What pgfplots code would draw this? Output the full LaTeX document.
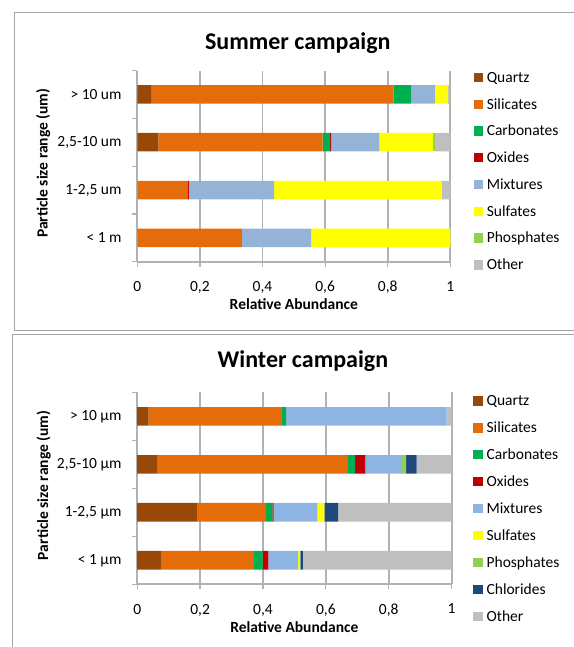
\documentclass[border=0pt]{standalone}
\usepackage{fontspec}
\setmainfont{Carlito}
\usepackage{pgfplots}
\usepackage{pgfplotstable}
\pgfplotsset{compat=1.18}

\definecolor{cquartz}{HTML}{984807}
\definecolor{csilic}{HTML}{E46C0A}
\definecolor{ccarb}{HTML}{00B050}
\definecolor{coxid}{HTML}{C00000}
\definecolor{cmixs}{HTML}{95B3D7}
\definecolor{cmixw}{HTML}{8EB4E3}
\definecolor{csulf}{HTML}{FFFF00}
\definecolor{cphos}{HTML}{92D050}
\definecolor{cchlo}{HTML}{1F497D}
\definecolor{cother}{HTML}{BFBFBF}
\definecolor{gridc}{RGB}{178,178,178}
\definecolor{framec}{RGB}{165,165,165}

% fractions per size class, 0 = smallest, 3 = largest
\pgfplotstableread{
pos quartz silicates carbonates oxides mixtures sulfates phosphates other
0 0     0.334 0     0     0.221 0.445 0     0
1 0     0.162 0     0.003 0.272 0.536 0     0.027
2 0.067 0.525 0.024 0.003 0.154 0.172 0.006 0.049
3 0.044 0.775 0.057 0     0.075 0.042 0     0.004
}\summer

\pgfplotstableread{
pos quartz silicates carbonates oxides mixtures sulfates phosphates chlorides other
0 0.078 0.293 0.028 0.018 0.095 0.005 0.002 0.008 0.473
1 0.190 0.220 0.020 0.004 0.139 0.022 0     0.044 0.361
2 0.065 0.605 0.023 0.033 0.117 0     0.012 0.034 0.111
3 0.036 0.424 0.014 0     0.510 0     0     0     0.016
}\winter

\newcommand{\lblfont}{\fontsize{15.5}{18}\selectfont}

\pgfplotsset{
  campaign/.style={
    xbar stacked,
    scale only axis,
    anchor=south west,
    xmin=0, xmax=1, ymin=-0.5, ymax=3.5,
    axis lines*=left,
    axis line style={draw=gridc, line width=1.8pt},
    xtick={0,0.2,0.4,0.6,0.8,1},
    xticklabels={0,{0,2},{0,4},{0,6},{0,8},1},
    xmajorgrids=true,
    ymajorgrids=false,
    major grid style={draw=gridc, line width=1.8pt},
    ytick={-0.5,0.5,1.5,2.5,3.5},
    yticklabels={},
    extra y ticks={0,1,2,3},
    extra y tick style={major tick length=0pt, ymajorgrids=false},
    tick align=outside,
    major tick length=5pt,
    every tick/.style={draw=gridc, line width=1.2pt},
    tick label style={font=\lblfont, inner sep=0pt},
    xticklabel style={anchor=north, yshift=-14.5pt},
    yticklabel style={anchor=east, xshift=-15.6pt},
    xlabel={Relative Abundance},
    xlabel style={at={(axis description cs:0.5,0)}, anchor=center,
      yshift=-42.3pt, font=\bfseries\lblfont, inner sep=0pt},
    ylabel={Particle size range (um)},
    ylabel style={anchor=center, font=\bfseries\lblfont, inner sep=0pt},
    title style={at={(axis description cs:0.5,1)}, anchor=base,
      xshift=4pt, font=\bfseries\fontsize{24}{28}\selectfont,
      inner sep=0pt},
    every axis plot/.append style={draw=none},
    legend cell align=left,
    legend image code/.code={\fill[#1] (0pt,0.2pt) rectangle (9.3pt,9.5pt);},
    legend style={at={(axis description cs:1,1)}, anchor=north west,
      draw=none, fill=none, inner sep=0pt, column sep=4pt,
      font=\lblfont,
      nodes={inner sep=0pt, text height=11.5pt, text depth=3.5pt},
      cells={anchor=base west}},
  },
}

\begin{document}
\begin{tikzpicture}
\path[use as bounding box] (0pt,0pt) rectangle (573pt,-647pt);
\draw[framec, line width=1pt] (14pt,-330pt) -- (14pt,-13pt) -- (600pt,-13pt);
\draw[framec, line width=1pt] (14pt,-330pt) -- (600pt,-330pt);
\draw[framec, line width=1pt] (12pt,-700pt) -- (12pt,-334pt) -- (600pt,-334pt);

\begin{axis}[campaign,
  at={(137.3pt,-261.7pt)}, width=313pt, height=191.2pt,
  bar width=18.5pt,
  title={Summer campaign},
  title style={yshift=15.5pt},
  extra y tick labels={{< 1 m},{1-2,5 um},{2,5-10 um},{> 10 um}},
  ylabel style={at={(axis description cs:-0.301,0.515)}},
  legend style={xshift=23pt, yshift=-0.2pt, row sep=11.76pt},
]
\addplot[fill=cquartz] table[x=quartz, y=pos] {\summer};
\addplot[fill=csilic] table[x=silicates, y=pos] {\summer};
\addplot[fill=ccarb] table[x=carbonates, y=pos] {\summer};
\addplot[fill=coxid] table[x=oxides, y=pos] {\summer};
\addplot[fill=cmixs] table[x=mixtures, y=pos] {\summer};
\addplot[fill=csulf] table[x=sulfates, y=pos] {\summer};
\addplot[fill=cphos] table[x=phosphates, y=pos] {\summer};
\addplot[fill=cother] table[x=other, y=pos] {\summer};
\legend{Quartz,Silicates,Carbonates,Oxides,Mixtures,Sulfates,Phosphates,Other}
\end{axis}

\begin{axis}[campaign,
  at={(137.2pt,-584.3pt)}, width=314.4pt, height=191.9pt,
  bar width=18.7pt,
  clip=false,
  title={Winter campaign},
  title style={xshift=4.5pt, yshift=18.7pt},
  extra y tick labels={{< 1 µm},{1-2,5 µm},{2,5-10 µm},{> 10 µm}},
  ylabel style={at={(axis description cs:-0.2975,0.515)}},
  legend style={xshift=21.5pt, yshift=-1.7pt, row sep=11.9pt},
]
\addplot[fill=cquartz] table[x=quartz, y=pos] {\winter};
\addplot[fill=csilic] table[x=silicates, y=pos] {\winter};
\addplot[fill=ccarb] table[x=carbonates, y=pos] {\winter};
\addplot[fill=coxid] table[x=oxides, y=pos] {\winter};
\addplot[fill=cmixw] table[x=mixtures, y=pos] {\winter};
\addplot[fill=csulf] table[x=sulfates, y=pos] {\winter};
\addplot[fill=cphos] table[x=phosphates, y=pos] {\winter};
\addplot[fill=cchlo] table[x=chlorides, y=pos] {\winter};
\addplot[fill=cother] table[x=other, y=pos] {\winter};
\legend{Quartz,Silicates,Carbonates,Oxides,Mixtures,Sulfates,Phosphates,Chlorides,Other}
% grid lines, only in the gaps between the bars (they all reach 1)
\draw[gridc, line width=1.8pt]
  (axis cs:0.2,-0.5) -- (axis cs:0.2,-0.195)
  (axis cs:0.2,0.195) -- (axis cs:0.2,0.805)
  (axis cs:0.2,1.195) -- (axis cs:0.2,1.805)
  (axis cs:0.2,2.195) -- (axis cs:0.2,2.805)
  (axis cs:0.2,3.195) -- (axis cs:0.2,3.5)
  (axis cs:0.4,-0.5) -- (axis cs:0.4,-0.195)
  (axis cs:0.4,0.195) -- (axis cs:0.4,0.805)
  (axis cs:0.4,1.195) -- (axis cs:0.4,1.805)
  (axis cs:0.4,2.195) -- (axis cs:0.4,2.805)
  (axis cs:0.4,3.195) -- (axis cs:0.4,3.5)
  (axis cs:0.6,-0.5) -- (axis cs:0.6,-0.195)
  (axis cs:0.6,0.195) -- (axis cs:0.6,0.805)
  (axis cs:0.6,1.195) -- (axis cs:0.6,1.805)
  (axis cs:0.6,2.195) -- (axis cs:0.6,2.805)
  (axis cs:0.6,3.195) -- (axis cs:0.6,3.5)
  (axis cs:0.8,-0.5) -- (axis cs:0.8,-0.195)
  (axis cs:0.8,0.195) -- (axis cs:0.8,0.805)
  (axis cs:0.8,1.195) -- (axis cs:0.8,1.805)
  (axis cs:0.8,2.195) -- (axis cs:0.8,2.805)
  (axis cs:0.8,3.195) -- (axis cs:0.8,3.5)
  (axis cs:1,-0.5) -- (axis cs:1,-0.195)
  (axis cs:1,0.195) -- (axis cs:1,0.805)
  (axis cs:1,1.195) -- (axis cs:1,1.805)
  (axis cs:1,2.195) -- (axis cs:1,2.805)
  (axis cs:1,3.195) -- (axis cs:1,3.5);
\end{axis}
\end{tikzpicture}
\end{document}
